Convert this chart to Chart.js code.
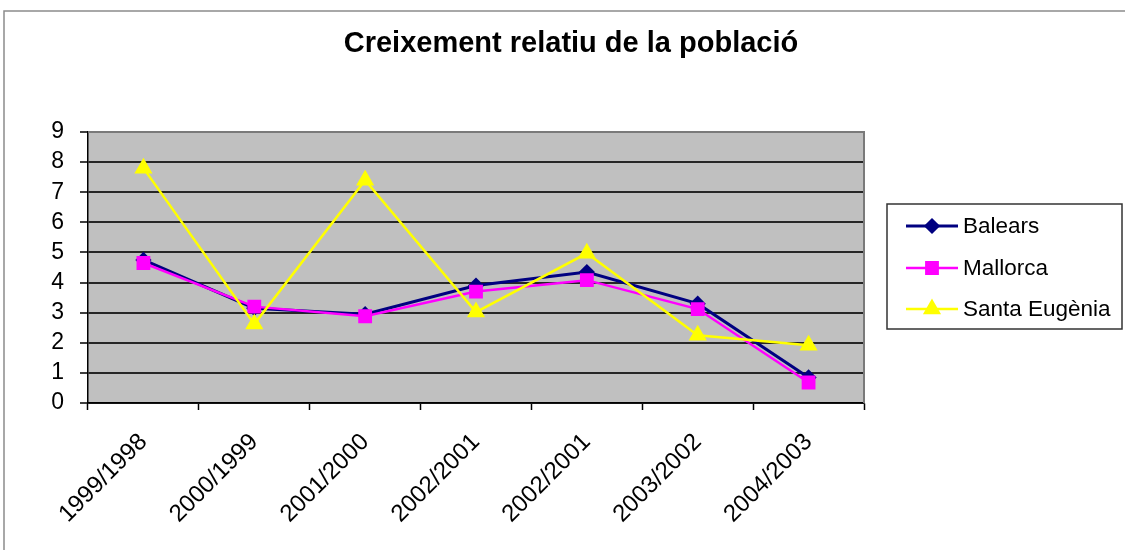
<!DOCTYPE html>
<html>
<head>
<meta charset="utf-8">
<script src="https://cdn.jsdelivr.net/npm/chart.js@4.4.0/dist/chart.umd.min.js"></script>
<style>
  html, body { margin: 0; padding: 0; background: #fff; }
</style>
</head>
<body>
<canvas id="popChart" width="1125" height="550"></canvas>
<script>
// Data
const chartTitle = 'Creixement relatiu de la població';
const periods = ['1999/1998', '2000/1999', '2001/2000', '2002/2001', '2002/2001', '2003/2002', '2004/2003'];
const balears = [4.75, 3.15, 2.95, 3.9, 4.35, 3.3, 0.85];
const mallorca = [4.65, 3.2, 2.88, 3.7, 4.08, 3.12, 0.68];
const santaEugenia = [7.8, 2.62, 7.4, 3.02, 4.97, 2.25, 1.92];
const yMin = 0;
const yMax = 9;

const FONT = "'Liberation Sans', Arial, sans-serif";

// Grey plot area + outer frame
const frame = {
  id: 'frame',
  beforeDraw(chart) {
    const { ctx, chartArea: a } = chart;
    ctx.save();
    ctx.fillStyle = '#c0c0c0';
    ctx.fillRect(a.left, a.top, a.right - a.left, a.bottom - a.top);
    ctx.strokeStyle = '#8c8c8c';
    ctx.lineWidth = 1.5;
    ctx.beginPath();
    ctx.moveTo(4, 550);
    ctx.lineTo(4, 11);
    ctx.lineTo(1125, 11);
    ctx.stroke();
    ctx.restore();
  },
  beforeDatasetsDraw(chart) {
    const { ctx, chartArea: a } = chart;
    ctx.save();
    ctx.strokeStyle = '#7a7a7a';
    ctx.lineWidth = 2;
    ctx.beginPath();
    ctx.moveTo(a.left, a.top);
    ctx.lineTo(a.right, a.top);
    ctx.lineTo(a.right, a.bottom);
    ctx.stroke();
    ctx.restore();
  }
};

// Title and Excel-style legend
const titleAndLegend = {
  id: 'titleAndLegend',
  afterDraw(chart) {
    const { ctx } = chart;
    ctx.save();
    ctx.fillStyle = '#000';
    ctx.font = 'bold 29px ' + FONT;
    ctx.textAlign = 'center';
    ctx.textBaseline = 'middle';
    ctx.fillText(chartTitle, 571, 44);

    // legend box
    ctx.fillStyle = '#fff';
    ctx.fillRect(887, 204, 235, 125);
    ctx.strokeStyle = '#333';
    ctx.lineWidth = 1.5;
    ctx.strokeRect(887, 204, 235, 125);

    const rows = [226, 268, 309];
    chart.data.datasets.forEach((ds, i) => {
      const y = rows[i];
      ctx.strokeStyle = ds.borderColor;
      ctx.lineWidth = ds.borderWidth;
      ctx.beginPath();
      ctx.moveTo(906, y);
      ctx.lineTo(958, y);
      ctx.stroke();
      ctx.fillStyle = ds.pointBackgroundColor;
      ctx.strokeStyle = ds.pointBorderColor;
      Chart.helpers.drawPoint(ctx, {
        pointStyle: ds.pointStyle,
        radius: ds.pointRadius,
        rotation: 0,
        borderWidth: 1
      }, 932, y);
      ctx.fillStyle = '#000';
      ctx.font = '22.5px ' + FONT;
      ctx.textAlign = 'left';
      ctx.textBaseline = 'middle';
      ctx.fillText(ds.label, 963, y + 1);
    });
    ctx.restore();
  }
};

const ctx = document.getElementById('popChart');

new Chart(ctx, {
  type: 'line',
  data: {
    labels: periods,
    datasets: [
      {
        label: 'Balears',
        data: balears,
        borderColor: '#000080',
        backgroundColor: '#000080',
        borderWidth: 3,
        pointStyle: 'rectRot',
        pointRadius: 6,
        pointBackgroundColor: '#000080',
        pointBorderColor: '#000080',
        order: 3
      },
      {
        label: 'Mallorca',
        data: mallorca,
        borderColor: '#ff00ff',
        backgroundColor: '#ff00ff',
        borderWidth: 2.5,
        pointStyle: 'rect',
        pointRadius: 8,
        pointBackgroundColor: '#ff00ff',
        pointBorderColor: '#ff00ff',
        order: 2
      },
      {
        label: 'Santa Eugènia',
        data: santaEugenia,
        borderColor: '#ffff00',
        backgroundColor: '#ffff00',
        borderWidth: 2.5,
        pointStyle: 'triangle',
        pointRadius: 8,
        pointBackgroundColor: '#ffff00',
        pointBorderColor: '#ffff00',
        order: 1
      }
    ]
  },
  options: {
    responsive: false,
    animation: false,
    devicePixelRatio: 1,
    layout: { padding: { left: 28, top: 132, right: 261, bottom: 7 } },
    plugins: {
      legend: { display: false },
      title: { display: false },
      tooltip: { enabled: false }
    },
    elements: { line: { tension: 0 } },
    scales: {
      x: {
        offset: true,
        afterFit: (s) => { s.height = 140; },
        grid: {
          offset: true,
          drawOnChartArea: false,
          drawTicks: true,
          tickLength: 7,
          tickColor: '#000',
          tickWidth: 1.5
        },
        border: { color: '#000', width: 1.5 },
        ticks: {
          color: '#000',
          font: { family: FONT, size: 24 },
          minRotation: 45,
          maxRotation: 45,
          autoSkip: false,
          padding: 18
        }
      },
      y: {
        min: yMin,
        max: yMax,
        afterFit: (s) => { s.width = 60; },
        grid: {
          color: (c) => (c.tick && c.tick.value === yMax ? 'rgba(0,0,0,0)' : '#262626'),
          lineWidth: 2,
          tickLength: 8,
          tickColor: '#000',
          tickWidth: 1.5
        },
        border: { color: '#000', width: 1.5 },
        ticks: {
          stepSize: 1,
          autoSkip: false,
          color: '#000',
          font: { family: FONT, size: 23 },
          padding: 16
        }
      }
    }
  },
  plugins: [frame, titleAndLegend]
});
</script>
</body>
</html>
